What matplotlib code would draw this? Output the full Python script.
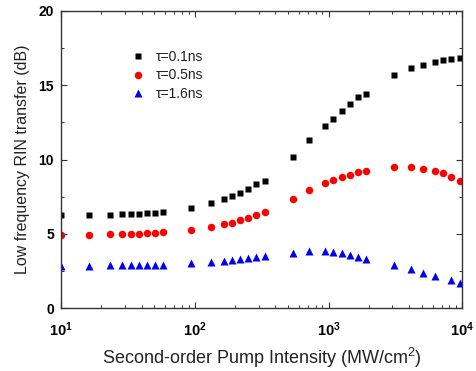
import matplotlib
matplotlib.use("Agg")
import matplotlib.pyplot as plt
import numpy as np
from matplotlib.ticker import LogLocator, MultipleLocator, NullFormatter

plt.rcParams['font.family'] = ['Liberation Sans', 'DejaVu Sans']
plt.rcParams['mathtext.fontset'] = 'custom'
plt.rcParams['mathtext.rm'] = 'Liberation Sans'
plt.rcParams['mathtext.bf'] = 'Liberation Sans:bold'

# Data
x_main = [10, 16.3, 23.2, 28.6, 33.2, 38.1, 43.7, 50.4, 58.2, 94, 133, 165, 191, 218,
          251, 289, 333, 539, 714, 941, 1086, 1253, 1439, 1651, 1905, 3104, 4111,
          5058, 6213, 7178, 8240, 9660]
y_01 = [6.25, 6.28, 6.28, 6.32, 6.35, 6.37, 6.39, 6.43, 6.48, 6.77, 7.09, 7.33, 7.56,
        7.78, 8.05, 8.34, 8.59, 10.18, 11.30, 12.29, 12.74, 13.27, 13.72, 14.22, 14.44,
        15.67, 16.14, 16.39, 16.55, 16.68, 16.77, 16.82]
y_05 = [4.95, 4.95, 4.97, 4.99, 5.01, 5.03, 5.05, 5.07, 5.11, 5.29, 5.49, 5.65, 5.76,
        5.92, 6.10, 6.28, 6.48, 7.38, 7.96, 8.43, 8.63, 8.81, 8.99, 9.15, 9.24, 9.53,
        9.51, 9.39, 9.24, 9.08, 8.86, 8.56]
x_16 = [10, 16.3, 23.2, 28.6, 33.2, 38.1, 43.7, 50.4, 58.2, 94, 133, 165, 191, 218,
        251, 289, 333, 539, 714, 941, 1086, 1253, 1439, 1651, 1905, 3104, 4111,
        5058, 6213, 8240, 9660]
y_16 = [2.83, 2.87, 2.89, 2.91, 2.91, 2.91, 2.91, 2.94, 2.94, 3.03, 3.12, 3.21, 3.25,
        3.30, 3.36, 3.45, 3.50, 3.72, 3.83, 3.86, 3.81, 3.72, 3.59, 3.43, 3.32, 2.89,
        2.62, 2.40, 2.15, 1.88, 1.73]
labels = ['τ=0.1ns', 'τ=0.5ns', 'τ=1.6ns']
xtick_vals = [10, 100, 1000, 10000]
xtick_labels = [r'$\mathbf{10^{1}}$', r'$\mathbf{10^{2}}$', r'$\mathbf{10^{3}}$', r'$\mathbf{10^{4}}$']
ytick_vals = [0, 5, 10, 15, 20]

fig = plt.figure(figsize=(4.77, 3.71), dpi=100)
ax = fig.add_axes([61/477, 1-308.3/371, (462.3-61)/477, (308.3-11)/371])

ax.plot(x_main, y_01, 's', color='black', ms=4.8, mec='none', label=labels[0])
ax.plot(x_main, y_05, 'o', color='#ff0000', ms=5.4, mec='none', label=labels[1])
ax.plot(x_16, y_16, '^', color='#0000ee', ms=5.8, mec='none', label=labels[2])

ax.set_xscale('log')
ax.set_xlim(10, 10000)
ax.set_ylim(0, 20)
ax.set_xticks(xtick_vals)
ax.set_xticklabels(xtick_labels)
ax.xaxis.set_minor_locator(LogLocator(base=10, subs=np.arange(2, 10)))
ax.xaxis.set_minor_formatter(NullFormatter())
ax.set_yticks(ytick_vals)
ax.set_yticklabels([str(v) for v in ytick_vals], fontweight='bold')
ax.yaxis.set_minor_locator(MultipleLocator(2.5))

ax.tick_params(which='both', direction='in', top=True, right=True, color='#333333')
ax.tick_params(which='major', length=4, width=0.8)
ax.tick_params(which='minor', length=2, width=0.7)
ax.tick_params(axis='x', which='major', pad=9, labelsize=10.5)
ax.tick_params(axis='y', which='major', pad=5, labelsize=10)
for s in ax.spines.values():
    s.set_linewidth(1.0)
    s.set_color('#333333')

ax.set_xlabel('Second-order Pump Intensity (MW/cm$^2$)', fontsize=13, labelpad=5, color='#222222')
ax.set_ylabel('Low frequency RIN transfer (dB)', fontsize=11.5, labelpad=6, color='#222222')

leg = ax.legend(loc='upper left', bbox_to_anchor=(131/477, 1-50/371), bbox_transform=fig.transFigure,
                frameon=False, fontsize=10, borderpad=0, handlelength=1.0, handletextpad=0.8,
                labelspacing=0.32, borderaxespad=0)
for t in leg.get_texts():
    t.set_color('#222222')

fig.savefig('out.png', dpi=100)
